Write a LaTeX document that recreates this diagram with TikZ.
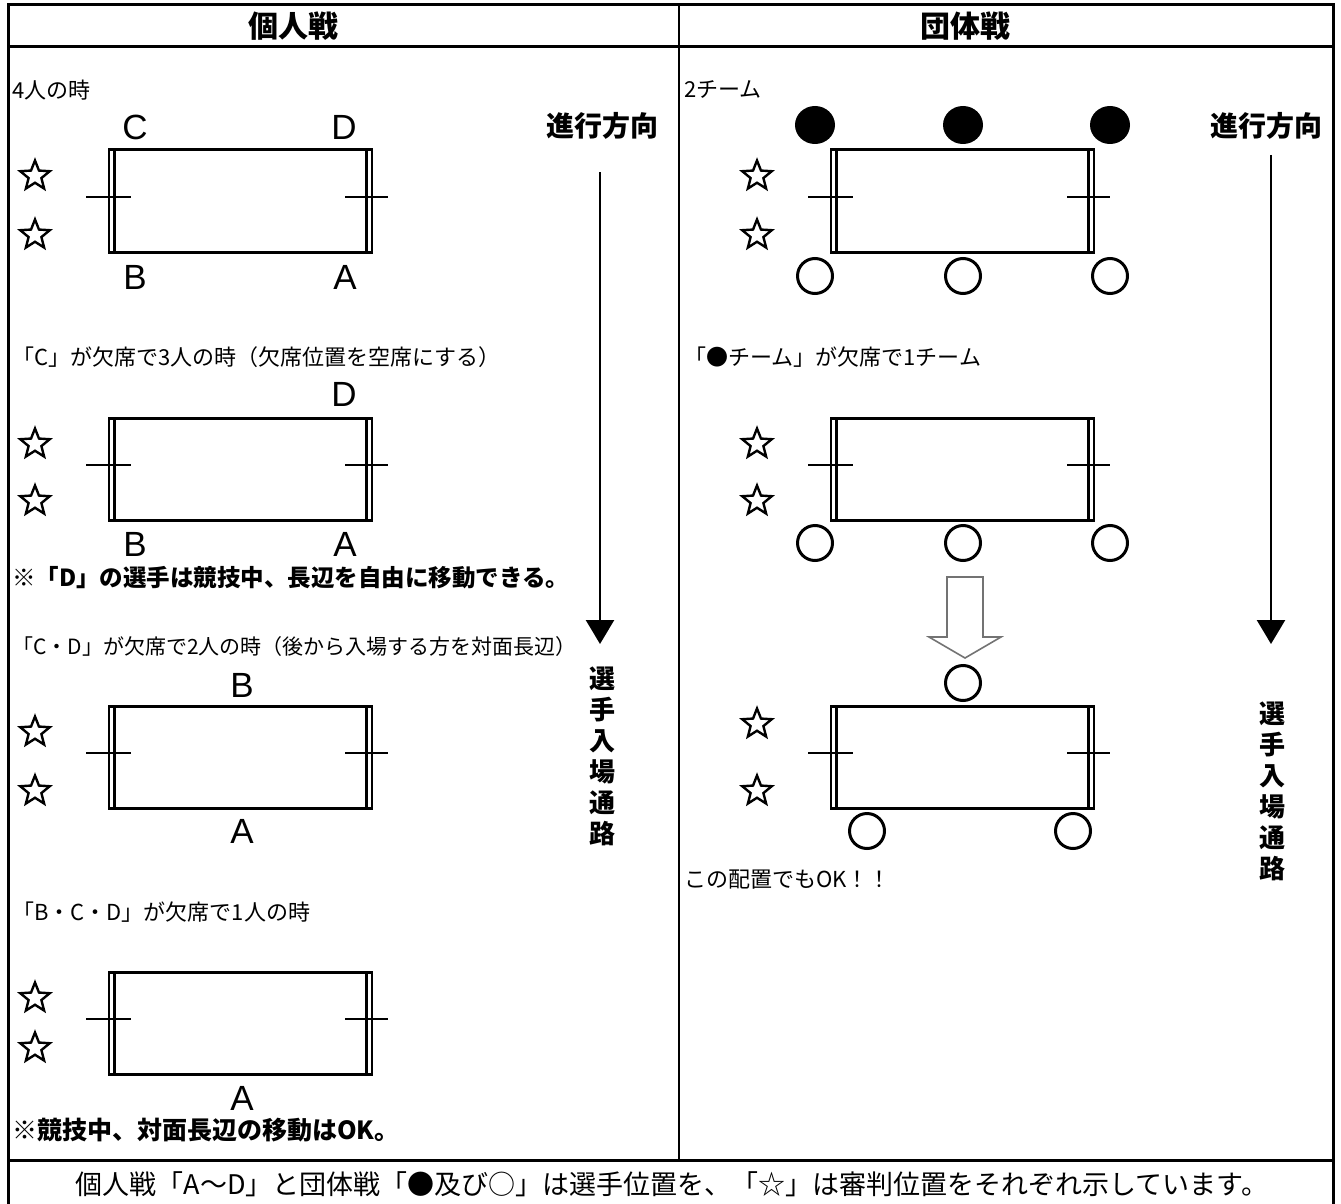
\documentclass[tikz,border=0pt]{standalone}
\usepackage{fontspec}
\setmainfont{Liberation Sans}
\newfontfamily\jp{Noto Sans CJK JP}
\usetikzlibrary{arrows.meta,shapes.geometric}
\tikzset{
  jsm/.style={font=\jp\fontsize{22}{24}\selectfont, anchor=west, inner sep=0pt},
  jsmb/.style={font=\jp\bfseries\fontsize{23.5}{25}\selectfont, anchor=west, inner sep=0pt},
  head/.style={font=\jp\bfseries\fontsize{30}{32}\selectfont, inner sep=0pt},
  dirtxt/.style={font=\jp\bfseries\fontsize{28}{30}\selectfont, inner sep=0pt},
  vtxt/.style={font=\jp\bfseries\fontsize{26}{31}\selectfont, align=center, inner sep=0pt},
  lbl/.style={font=\fontsize{35}{40}\selectfont, inner sep=0pt},
  refstar/.style={star, star points=5, star point ratio=2.3, draw, line width=2.4pt,
    minimum size=31pt, inner sep=0pt},
  pball/.style={ellipse, fill=black, minimum width=40pt, minimum height=38pt, inner sep=0pt},
  pring/.style={circle, draw, line width=3pt, minimum size=35pt, inner sep=0pt},
  frame/.style={line width=3pt},
  dirarrow/.style={line width=2.5pt, -{Triangle[width=28pt,length=24pt]}},
  court/.pic={
    \draw[line width=3pt] (0,0) -- (265,0) (0,102) -- (265,102);
    \draw[line width=2.6pt] (1,0) -- (1,102) (6.5,0) -- (6.5,102)
                           (258.5,0) -- (258.5,102) (264,0) -- (264,102);
    \draw[line width=2.5pt] (-22,47) -- (23,47) (237,47) -- (280,47);
  }
}
\begin{document}
\begin{tikzpicture}[x=1pt,y=-1pt]
\useasboundingbox (0,0) rectangle (1341,1204);
% frame
\draw[frame] (8,1204) -- (8,5) -- (1333,5) -- (1333,1204);
\draw[frame] (8,47) -- (1333,47);
\draw[line width=2.5pt] (679,5) -- (679,1160);
\draw[line width=3pt] (8,1160) -- (1333,1160);
\node[head] (h1) at (293,26) {個人戦};
\node[head] (h2) at (965,26) {団体戦};
\node[font=\jp\fontsize{27}{30}\selectfont, inner sep=0pt] (foot) at (672,1184)
  {個人戦「A～D」と団体戦「●及び○」は選手位置を、「☆」は審判位置をそれぞれ示しています。};

% ===== left column =====
\node[jsm] (t1) at (12,90) {4人の時};
\pic at (108,150) {court};
\node[lbl] (c1) at (135,127) {C};
\node[lbl] (d1) at (344,127) {D};
\node[lbl] (b1) at (135,277) {B};
\node[lbl] (a1) at (345,277) {A};
\node[refstar] (s1a) at (35,176) {};
\node[refstar] (s1b) at (35,235) {};

\node[jsm] (t2) at (12,357) {「C」が欠席で3人の時（欠席位置を空席にする）};
\pic at (108,418) {court};
\node[lbl] (d2) at (344,394) {D};
\node[lbl] (b2) at (135,544) {B};
\node[lbl] (a2) at (345,544) {A};
\node[refstar] (s2a) at (35,444) {};
\node[refstar] (s2b) at (35,501) {};
\node[jsmb] (n2) at (12,578) {※「D」の選手は競技中、長辺を自由に移動できる。};

\node[font=\jp\fontsize{21}{24}\selectfont, anchor=west, inner sep=0pt] (t3) at (12,647)
  {「C・D」が欠席で2人の時（後から入場する方を対面長辺）};
\pic at (108,706) {court};
\node[lbl] (b3) at (242,685) {B};
\node[lbl] (a3) at (242,831) {A};
\node[refstar] (s3a) at (35,732) {};
\node[refstar] (s3b) at (35,791) {};

\node[jsm] (t4) at (12,912) {「B・C・D」が欠席で1人の時};
\pic at (108,972) {court};
\node[lbl] (a4) at (242,1098) {A};
\node[refstar] (s4a) at (35,998) {};
\node[refstar] (s4b) at (35,1048) {};
\node[font=\jp\bfseries\fontsize{25}{27}\selectfont, anchor=west, inner sep=0pt] (n4) at (12,1130)
  {※競技中、対面長辺の移動はOK。};

\node[dirtxt] (dirL) at (602,126) {進行方向};
\coordinate (arLs) at (600,172);
\coordinate (arLe) at (600,644);
\draw[dirarrow] (arLs) -- (arLe);
\node[vtxt] (laneL) at (602,756) {選\\手\\入\\場\\通\\路};

% ===== right column =====
\node[jsm] (r1) at (684,90) {2チーム};
\pic at (830,150) {court};
\node[pball] (f1) at (815,125) {};
\node[pball] (f2) at (963,125) {};
\node[pball] (f3) at (1110,125) {};
\node[pring] (o1) at (815,276) {};
\node[pring] (o2) at (963,276) {};
\node[pring] (o3) at (1110,276) {};
\node[refstar] (rs1a) at (757,176) {};
\node[refstar] (rs1b) at (757,235) {};

\node[jsm] (r2) at (684,357) {「●チーム」が欠席で1チーム};
\pic at (830,418) {court};
\node[pring] (o4) at (815,543) {};
\node[pring] (o5) at (963,543) {};
\node[pring] (o6) at (1110,543) {};
\node[refstar] (rs2a) at (757,444) {};
\node[refstar] (rs2b) at (757,501) {};

\draw[line width=1.6pt, draw=black!55] (947,577) -- (983,577) -- (983,637) -- (1001,637)
  -- (965,658) -- (929,637) -- (947,637) -- cycle;

\node[pring] (o7) at (963,683) {};
\pic at (830,706) {court};
\node[pring] (o8) at (867,831) {};
\node[pring] (o9) at (1073,831) {};
\node[refstar] (rs3a) at (757,724) {};
\node[refstar] (rs3b) at (757,791) {};
\node[jsm] (r3) at (684,880) {この配置でもOK！！};

\node[dirtxt] (dirR) at (1266,126) {進行方向};
\coordinate (arRs) at (1271,155);
\coordinate (arRe) at (1271,644);
\draw[dirarrow] (arRs) -- (arRe);
\node[vtxt] (laneR) at (1272,791) {選\\手\\入\\場\\通\\路};
\end{tikzpicture}
\end{document}
